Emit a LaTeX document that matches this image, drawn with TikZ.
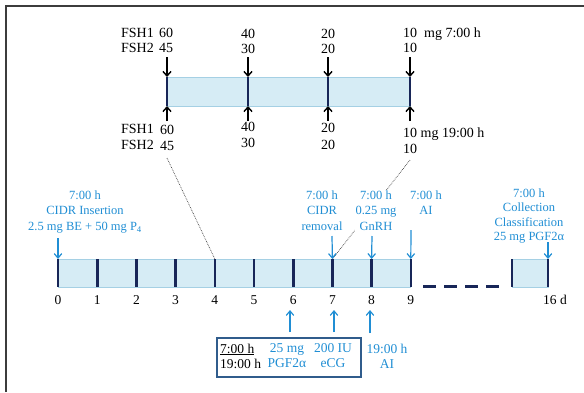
\documentclass[tikz,border=0pt]{standalone}
\usepackage{fontspec}
\setmainfont{Liberation Serif}
\usetikzlibrary{arrows.meta}
\definecolor{ablue}{RGB}{32,142,212}
\definecolor{barfill}{RGB}{214,236,245}
\definecolor{barline}{RGB}{165,208,228}
\definecolor{navy}{RGB}{24,38,88}
\definecolor{boxline}{RGB}{48,92,140}
\definecolor{frame}{RGB}{60,60,60}
\begin{document}
\begin{tikzpicture}[x=1pt,y=-1pt,
  txt/.style={font=\fontsize{12.5}{15.5}\selectfont, inner sep=0pt, align=center},
  ktxt/.style={txt, font=\fontsize{14}{15.5}\selectfont},
  mtxt/.style={txt, font=\fontsize{13.5}{15}\selectfont},
  btxt/.style={txt, text=ablue},
  tickline/.style={navy, line width=2.6pt},
  bar/.style={fill=barfill, draw=barline, line width=0.8pt},
  karrow/.style={-{Straight Barb[length=4.5pt,width=8pt]}, line width=1.4pt, black},
  barrow/.style={-{Straight Barb[length=4.5pt,width=7.5pt]}, line width=1.2pt, ablue},
  guide/.style={densely dotted, black!75, line width=0.7pt}]
\useasboundingbox (0,0) rectangle (584,392);
% frame
\draw[line width=1.4pt, frame] (6,392) -- (6,6) -- (584,6);

% ---------- FSH detail bar ----------
\draw[bar] (167,77) rectangle (410,106);
\foreach \n/\x in {0/167,1/248,2/328,3/410}{
  \coordinate (st\n) at (\x,77);
  \coordinate (sb\n) at (\x,106);
  \coordinate (sat\n) at (\x,57);
  \coordinate (sab\n) at (\x,121);
  \draw[tickline] (st\n) -- (sb\n);
  \draw[karrow] (sat\n) -- (st\n);
  \draw[karrow] (sab\n) -- (sb\n);
}
% doses above (7:00 h)
\node[ktxt, anchor=base east] (fa1) at (154,37.5) {FSH1};
\node[ktxt, anchor=base east] (fa2) at (154,52.5) {FSH2};
\node[ktxt, anchor=base] (a60) at (166,37.5) {60};
\node[ktxt, anchor=base] (a45) at (166,52.5) {45};
\node[ktxt, anchor=base] (a40) at (248,38.5) {40};
\node[ktxt, anchor=base] (a30) at (248,53.5) {30};
\node[ktxt, anchor=base] (a20) at (328,38.5) {20};
\node[ktxt, anchor=base] (a20b) at (328,53.5) {20};
\node[ktxt, anchor=base west] (a10) at (403,37.5) {10\ \ mg 7:00 h};
\node[ktxt, anchor=base west] (a10b) at (403,52.5) {10};
% doses below (19:00 h)
\node[ktxt, anchor=base east] (fb1) at (154,133) {FSH1};
\node[ktxt, anchor=base east] (fb2) at (154,149.5) {FSH2};
\node[ktxt, anchor=base] (b60) at (167,134.5) {60};
\node[ktxt, anchor=base] (b45) at (167,150) {45};
\node[ktxt, anchor=base] (b40) at (248,131.5) {40};
\node[ktxt, anchor=base] (b30) at (248,147.5) {30};
\node[ktxt, anchor=base] (b20) at (328,132.5) {20};
\node[ktxt, anchor=base] (b20b) at (328,149) {20};
\node[ktxt, anchor=base west] (b10) at (403,137.5) {10 mg 19:00 h};
\node[ktxt, anchor=base west] (b10b) at (403,153) {10};

% ---------- main time line ----------
\foreach \i in {0,...,9}{
  \coordinate (mt\i) at ({58+39.2*\i},259);
  \coordinate (mb\i) at ({58+39.2*\i},287);
}
\coordinate (mt16) at (548,259);
\coordinate (mb16) at (548,287);
\coordinate (et) at (512,259);
\coordinate (eb) at (512,287);

% guide lines from the detail bar
\coordinate (g1) at (167,158);
\coordinate (g2) at (410,160);
\draw[guide] (g1) -- (mt4);
\draw[guide] (g2) -- (mt7);

\draw[bar] (mt0) rectangle (mb9);
\draw[bar] (et) rectangle (mb16);
\foreach \i in {0,...,9}{ \draw[tickline] (mt\i) -- (mb\i); }
\draw[tickline] (et) -- (eb);
\draw[tickline] (mt16) -- (mb16);
\coordinate (d1) at (423,286.5);
\coordinate (d2) at (500,286.5);
\draw[navy, line width=2.6pt, dash pattern=on 13pt off 8pt] (d1) -- (d2);

% day numbers
\foreach \i in {0,...,9}{
  \node[mtxt, anchor=base] (n\i) at ({58+39.2*\i},304) {\i};
}
\node[mtxt, anchor=base west] (n16) at (543,304) {16 d};

% ---------- events (7:00 h) ----------
\node[btxt, anchor=north] (ins) at (85,190.5) {7:00 h\\CIDR Insertion\\2.5 mg BE + 50 mg P\textsubscript{4}};
\node[btxt, anchor=north, fill=white, inner sep=1pt] (rem) at (322,189.5) {7:00 h\\CIDR\\removal};
\node[btxt, anchor=north, fill=white, inner sep=1pt] (gnrh) at (376,189.5) {7:00 h\\0.25 mg\\GnRH};
\node[btxt, anchor=north] (ai) at (426,190.5) {7:00 h\\AI};
\node[btxt, anchor=north, font=\fontsize{12.5}{14.5}\selectfont] (col) at (529,188.5) {7:00 h\\Collection\\Classification\\25 mg PGF2α};

\coordinate (e0) at (58,238);
\coordinate (e7) at (332,236);
\coordinate (e8) at (372,236);
\coordinate (e9) at (411,230);
\coordinate (e16) at (548,242);
\draw[barrow] (e0) -- (mt0);
\draw[barrow] (e7) -- (mt7);
\draw[barrow] (e8) -- (mt8);
\draw[barrow] (e9) -- (mt9);
\draw[barrow] (e16) -- (mt16);

% ---------- events in the box ----------
\coordinate (u6) at (290,332);
\coordinate (u7) at (334,332);
\coordinate (u8) at (370,333);
\coordinate (u6t) at (290,310);
\coordinate (u7t) at (334,310);
\coordinate (u8t) at (370,310);
\draw[barrow] (u6) -- (u6t);
\draw[barrow] (u7) -- (u7t);
\draw[barrow] (u8) -- (u8t);

\node[draw=boxline, line width=1.6pt, minimum width=144pt, minimum height=39pt, inner sep=0pt] (box) at (289,357.5) {};
\node[mtxt, anchor=north west, align=left] (hrs) at (220,343.5) {\underline{7:00 h}\\19:00 h};
\node[mtxt, text=ablue, anchor=north] (pgf) at (287,343.5) {25 mg\\PGF2α};
\node[mtxt, text=ablue, anchor=north] (ecg) at (333,343.5) {200 IU\\eCG};
\node[mtxt, text=ablue, anchor=north] (ai2) at (387,343.5) {19:00 h\\AI};
\end{tikzpicture}
\end{document}
